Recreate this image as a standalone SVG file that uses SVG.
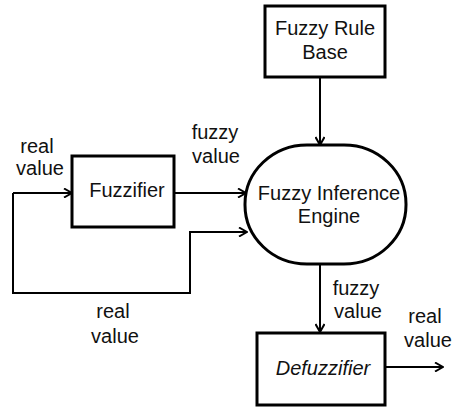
<svg xmlns="http://www.w3.org/2000/svg" width="460" height="408" viewBox="0 0 460 408">
  <defs>
    <marker id="chev" viewBox="0 0 10 10" refX="9" refY="5" markerWidth="10" markerHeight="10" markerUnits="userSpaceOnUse" orient="auto">
      <path d="M1,0.5 L9,5 L1,9.5" fill="none" stroke="#000" stroke-width="2"/>
    </marker>
    <style>
      .box { fill: #fff; stroke: #000; stroke-width: 3; }
      .edge { fill: none; stroke: #000; stroke-width: 2; marker-end: url(#chev); }
      text { font-family: "Liberation Sans", Arial, sans-serif; font-size: 20px; fill: #111; text-anchor: middle; }
      .it { font-style: italic; }
    </style>
  </defs>

  <rect width="460" height="408" fill="#fff"/>

  <!-- connectors -->
  <g id="connectors">
    <path class="edge" d="M320,77 V145"/>
    <path class="edge" d="M13,193 H72"/>
    <path class="edge" d="M174,193 H246"/>
    <path class="edge" d="M13,193 V293 H190 V232 H247"/>
    <path class="edge" d="M320,264 V332"/>
    <path class="edge" d="M385,367 H443"/>
  </g>

  <!-- connector labels -->
  <g id="labels">
    <text x="37" y="153">real</text>
    <text x="40" y="175">value</text>
    <text x="215" y="139">fuzzy</text>
    <text x="216" y="163">value</text>
    <text x="113" y="318">real</text>
    <text x="115" y="343">value</text>
    <text x="356" y="295">fuzzy</text>
    <text x="358" y="318">value</text>
    <text x="425" y="323">real</text>
    <text x="428" y="347">value</text>
  </g>

  <g id="rule-base">
    <rect class="box" x="265" y="6" width="120" height="71"/>
    <text x="325" y="35">Fuzzy Rule</text>
    <text x="325" y="59">Base</text>
  </g>

  <g id="fuzzifier">
    <rect class="box" x="72" y="156" width="102" height="71"/>
    <text x="127" y="197">Fuzzifier</text>
  </g>

  <g id="inference-engine">
    <rect class="box" x="245" y="145" width="161" height="119" rx="62" ry="59"/>
    <text x="329" y="200">Fuzzy Inference</text>
    <text x="329" y="223">Engine</text>
  </g>

  <g id="defuzzifier">
    <rect class="box" x="257" y="333" width="128" height="72"/>
    <text class="it" x="323" y="375">Defuzzifier</text>
  </g>
</svg>
